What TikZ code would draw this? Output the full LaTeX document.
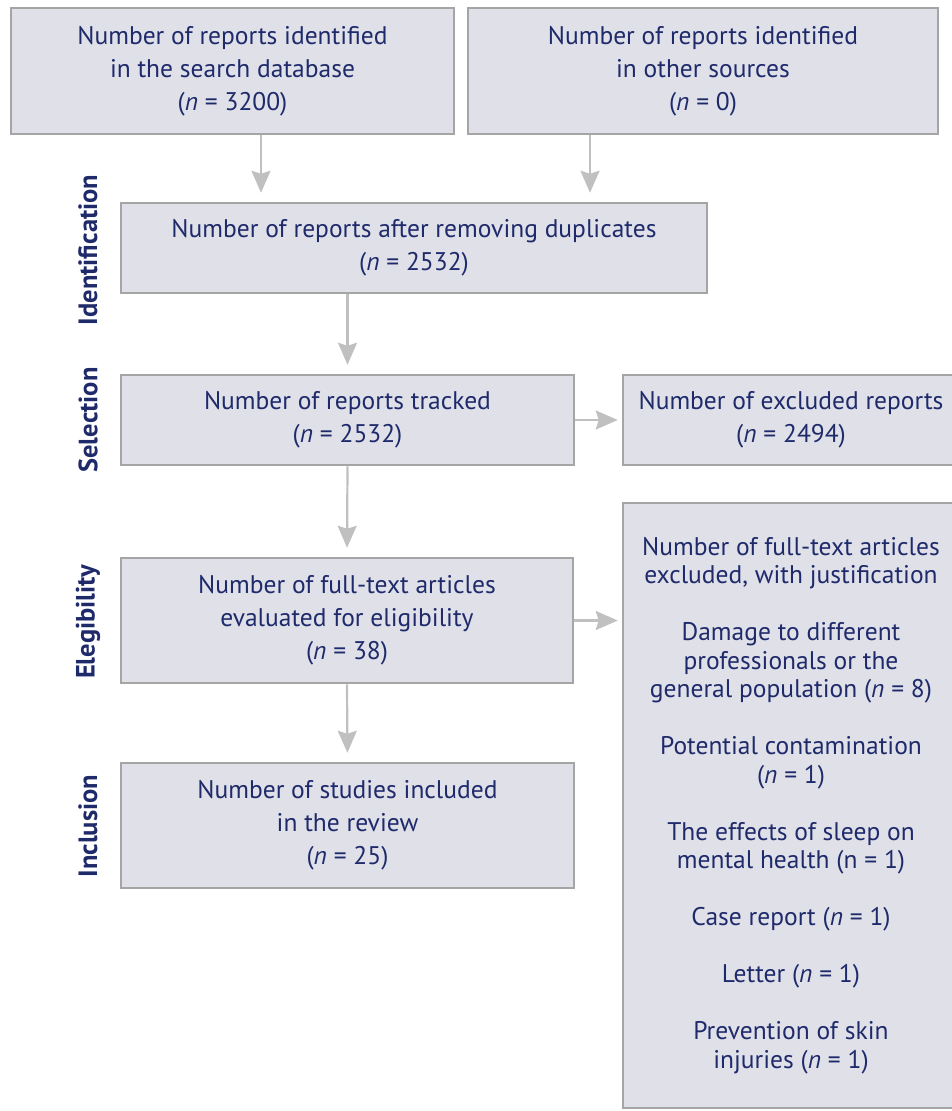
\documentclass[tikz,border=0pt]{standalone}
\usepackage{fontspec}
\setmainfont{PT Sans}
\usetikzlibrary{positioning,arrows.meta}
\definecolor{Navy}{HTML}{1F2A6B}
\definecolor{BoxFill}{HTML}{DFE0E8}
\definecolor{BoxLine}{HTML}{A5A5A5}
\definecolor{ArrowGrey}{HTML}{C0C0C0}
\tikzset{
  box/.style={draw=BoxLine, fill=BoxFill, line width=2.5pt, text=Navy,
    align=center, inner sep=0pt, font=\fontsize{25.5}{33}\selectfont},
  listbox/.style={box, font=\fontsize{25.5}{28.5}\selectfont},
  phase/.style={rotate=90, text=Navy, font=\fontsize{26.5}{30}\selectfont\bfseries},
  flow/.style={draw=ArrowGrey, line width=2.2pt,
    -{Stealth[length=22pt, width=19pt, inset=3pt]}},
}

\begin{document}
\begin{tikzpicture}[x=1pt, y=-1pt]
        \useasboundingbox (0,0) rectangle (952,1111);
        % phase labels
        \node[phase] (pid) at (88,250) {Identification};
        \node[phase] (psel) at (88,420) {Selection};
        \node[phase] (pel) at (88,622) {Elegibility};
        \node[phase] (pinc) at (88,826) {Inclusion};
        % boxes
        \node[box, minimum width=443, minimum height=126] (db) at (232.5,71)
          {Number of reports identified\\in the search database\\(\textit{n} = 3200)};
        \node[box, minimum width=470, minimum height=126] (other) at (703,71)
          {Number of reports identified\\in other sources\\(\textit{n} = 0)};
        \node[box, minimum width=586, minimum height=90] (dup) at (414,248)
          {Number of reports after removing duplicates\\(\textit{n} = 2532)};
        \node[box, minimum width=453, minimum height=90] (tracked) at (347.5,420)
          {Number of reports tracked\\(\textit{n} = 2532)};
        \node[box, minimum width=336, minimum height=90] (excl) at (791,420)
          {Number of excluded reports\\(\textit{n} = 2494)};
        \node[box, minimum width=452, minimum height=125] (elig) at (347,620.5)
          {Number of full-text articles\\evaluated for eligibility\\(\textit{n} = 38)};
        \node[box, minimum width=453, minimum height=125] (incl) at (347.5,825.5)
          {Number of studies included\\in the review\\(\textit{n} = 25)};
        \node[listbox, minimum width=336, minimum height=605] (why) at (791,805.5)
          {Number of full-text articles\\excluded, with justification\\[28.5pt]
           Damage to different\\professionals or the\\general population (\textit{n} = 8)\\[28.5pt]
           Potential contamination\\(\textit{n} = 1)\\[28.5pt]
           The effects of sleep on\\mental health (n = 1)\\[28.5pt]
           Case report (\textit{n} = 1)\\[28.5pt]
           Letter (\textit{n} = 1)\\[28.5pt]
           Prevention of skin\\injuries (\textit{n} = 1)};
        % connectors
        \coordinate (dbx) at (261,0);
        \coordinate (otherx) at (590,0);
        \draw[flow, shorten >=9pt] (db.south -| dbx) -- (dup.north -| dbx);
        \draw[flow, shorten >=9pt] (other.south -| otherx) -- (dup.north -| otherx);
        \draw[flow, shorten >=9pt] (dup.south -| tracked) -- (tracked.north);
        \draw[flow, shorten >=9pt] (tracked.south) -- (elig.north);
        \draw[flow, shorten >=9pt] (elig.south) -- (incl.north);
        \draw[flow, shorten >=4pt] (tracked.east) -- (excl.west);
        \draw[flow, shorten >=4pt] (elig.east) -- (elig.east -| why.west);
      \end{tikzpicture}
\end{document}
